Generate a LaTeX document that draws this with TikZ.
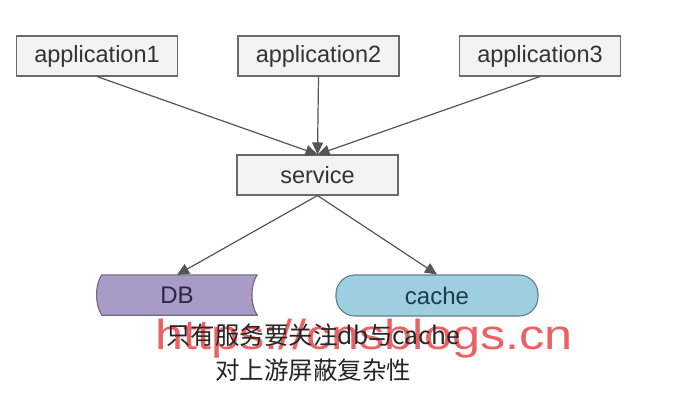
\documentclass[tikz,border=0pt]{standalone}
\usepackage{fontspec}
\setmainfont{Liberation Sans}
\newfontfamily\cjk{Noto Sans CJK SC}
\usetikzlibrary{arrows.meta,calc,backgrounds}
\definecolor{boxfill}{HTML}{F3F3F3}
\definecolor{boxline}{HTML}{6A6A6A}
\definecolor{boxtext}{HTML}{333333}
\definecolor{arrowc}{HTML}{555555}
\definecolor{dbfill}{HTML}{A89BC6}
\definecolor{dbline}{HTML}{6E6880}
\definecolor{dbtext}{HTML}{2B2445}
\definecolor{cachefill}{HTML}{9ECFE1}
\definecolor{cacheline}{HTML}{5E7F8C}
\definecolor{cachetext}{HTML}{1E3B4B}
\definecolor{wmred}{HTML}{E8464A}
\begin{document}
\begin{tikzpicture}[x=1pt,y=-1pt,
  appbox/.style={draw=boxline, fill=boxfill, line width=1.1pt,
    minimum width=161pt, minimum height=40pt, inner sep=0pt,
    font=\fontsize{23.5}{26}\selectfont, text=boxtext},
  dbnode/.style={minimum width=160pt, minimum height=40pt, inner sep=0pt,
    font=\fontsize{24}{26}\selectfont, text=dbtext},
  cachenode/.style={draw=cacheline, fill=cachefill, line width=1.1pt,
    rounded corners=19pt, minimum width=202pt, minimum height=41pt, inner sep=0pt,
    font=\fontsize{24}{26}\selectfont, text=cachetext},
  conn/.style={draw=arrowc, line width=1.2pt, -{Triangle[length=12pt,width=11pt]}},
  notetext/.style={font=\cjk\fontsize{24.5}{35}\selectfont, align=center, text=black!85, inner sep=0pt},
  watermark/.style={font=\fontsize{42}{46}\selectfont, text=wmred, opacity=0.85, inner sep=0pt, anchor=base west}
]
\useasboundingbox (0,0) rectangle (684,410);

\node[appbox] (app1) at (97,56) {application1};
\node[appbox] (app2) at (318.5,56) {application2};
\node[appbox] (app3) at (540,56) {application3};
\node[appbox] (svc) at (317.5,175) {service};

\node[dbnode] (db) at (177,295) {DB};
\begin{scope}[on background layer]
\fill[white] (0,0) rectangle (684,410);
\draw[draw=dbline, fill=dbfill, line width=1.1pt]
  ($(db.north west)+(5,0)$) -- (db.north east)
  .. controls ($(db.east)+(-7,-10)$) and ($(db.east)+(-7,10)$) .. (db.south east)
  -- ($(db.south west)+(5,0)$)
  .. controls ($(db.west)+(-2,10)$) and ($(db.west)+(-2,-10)$) .. ($(db.north west)+(5,0)$) -- cycle;
\end{scope}
\node[cachenode] (cache) at (437,295.5) {cache};

\draw[conn] (app1.south) -- (svc.north);
\draw[conn] (app2.south) -- (svc.north);
\draw[conn] (app3.south) -- (svc.north);
\draw[conn] (svc.south) -- (db.north);
\draw[conn] (svc.south) -- (cache.north);

\node[watermark] (wm) at (155,349) {\scalebox{1.2}[1]{https://cnsblogs.cn}};
\node[notetext] (note) at (313,353) {只有服务要关注db与cache\\对上游屏蔽复杂性};
\end{tikzpicture}
\end{document}
